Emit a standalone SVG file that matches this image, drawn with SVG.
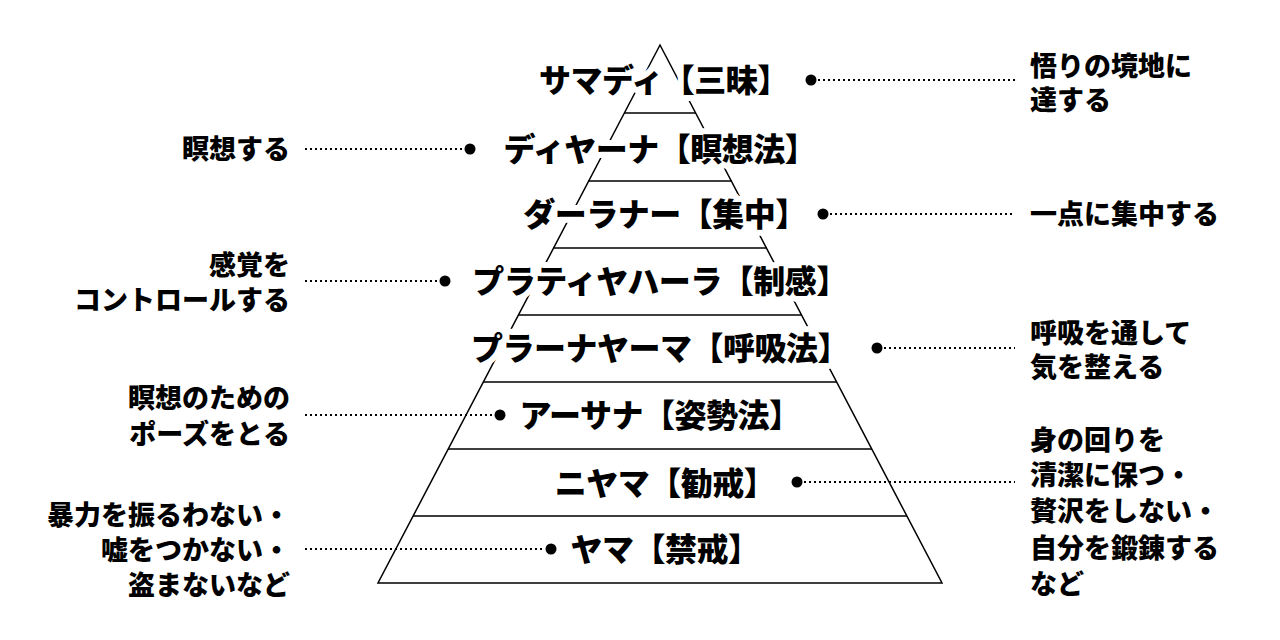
<svg xmlns="http://www.w3.org/2000/svg" width="1280" height="640" viewBox="0 0 1280 640">
<style>
.p{fill:none;stroke:#000;stroke-width:1.5}
.t{font-family:"Noto Sans CJK JP",sans-serif;font-weight:900;fill:#000}
.n{font-size:32px;letter-spacing:-0.5px;text-anchor:middle;stroke:#fff;stroke-width:12;paint-order:stroke;stroke-linejoin:round}
.s{font-size:27px}
.r{text-anchor:end}
.d{stroke:#000;stroke-width:2;stroke-dasharray:2 3}
</style>
<rect width="1280" height="640" fill="#fff"/>
<g id="pyramid">
<polygon class="p" points="660,45 942,583 378,583"/>
<path class="p" d="M624,113H696M588,181H732M553,248H767M518,315H802M483,382H837M448,449H872M413,516H907"/>
</g>
<g id="connectors">
<line class="d" x1="818" y1="80" x2="1015" y2="80"/><circle cx="811" cy="80" r="5.5"/>
<line class="d" x1="305" y1="149" x2="463" y2="149"/><circle cx="470" cy="149" r="5.5"/>
<line class="d" x1="830" y1="214" x2="1015" y2="214"/><circle cx="823" cy="214" r="5.5"/>
<line class="d" x1="305" y1="281" x2="438" y2="281"/><circle cx="445" cy="281" r="5.5"/>
<line class="d" x1="884" y1="348" x2="1015" y2="348"/><circle cx="877" cy="348" r="5.5"/>
<line class="d" x1="305" y1="415" x2="493" y2="415"/><circle cx="500" cy="415" r="5.5"/>
<line class="d" x1="804" y1="482" x2="1015" y2="482"/><circle cx="797" cy="482" r="5.5"/>
<line class="d" x1="305" y1="549" x2="544" y2="549"/><circle cx="551" cy="549" r="5.5"/>
</g>
<g id="n1"><text class="t n" x="664" y="92">サマディ【三昧】</text></g>
<g id="n2"><text class="t n" x="660" y="161">ディヤーナ【瞑想法】</text></g>
<g id="n3"><text class="t n" x="665" y="226">ダーラナー【集中】</text></g>
<g id="n4"><text class="t n" x="660" y="293">プラティヤハーラ【制感】</text></g>
<g id="n5"><text class="t n" x="660" y="360">プラーナヤーマ【呼吸法】</text></g>
<g id="n6"><text class="t n" x="660" y="427">アーサナ【姿勢法】</text></g>
<g id="n7"><text class="t n" x="665" y="495">ニヤマ【勧戒】</text></g>
<g id="n8"><text class="t n" x="665" y="561">ヤマ【禁戒】</text></g>
<g id="labels">
<text class="t s" x="1030" y="76">悟りの境地に</text>
<text class="t s" x="1030" y="110">達する</text>
<text class="t s" x="1030" y="224">一点に集中する</text>
<text class="t s" x="1030" y="343">呼吸を通して</text>
<text class="t s" x="1030" y="377">気を整える</text>
<text class="t s" x="1030" y="450">身の回りを</text>
<text class="t s" x="1030" y="485">清潔に保つ・</text>
<text class="t s" x="1030" y="521">贅沢をしない・</text>
<text class="t s" x="1030" y="558">自分を鍛錬する</text>
<text class="t s" x="1030" y="594">など</text>
<text class="t s r" x="290" y="159">瞑想する</text>
<text class="t s r" x="290" y="275">感覚を</text>
<text class="t s r" x="290" y="310">コントロールする</text>
<text class="t s r" x="290" y="408">瞑想のための</text>
<text class="t s r" x="290" y="444">ポーズをとる</text>
<text class="t s r" x="290" y="525">暴力を振るわない・</text>
<text class="t s r" x="290" y="560">嘘をつかない・</text>
<text class="t s r" x="290" y="595">盗まないなど</text>
</g>
</svg>
